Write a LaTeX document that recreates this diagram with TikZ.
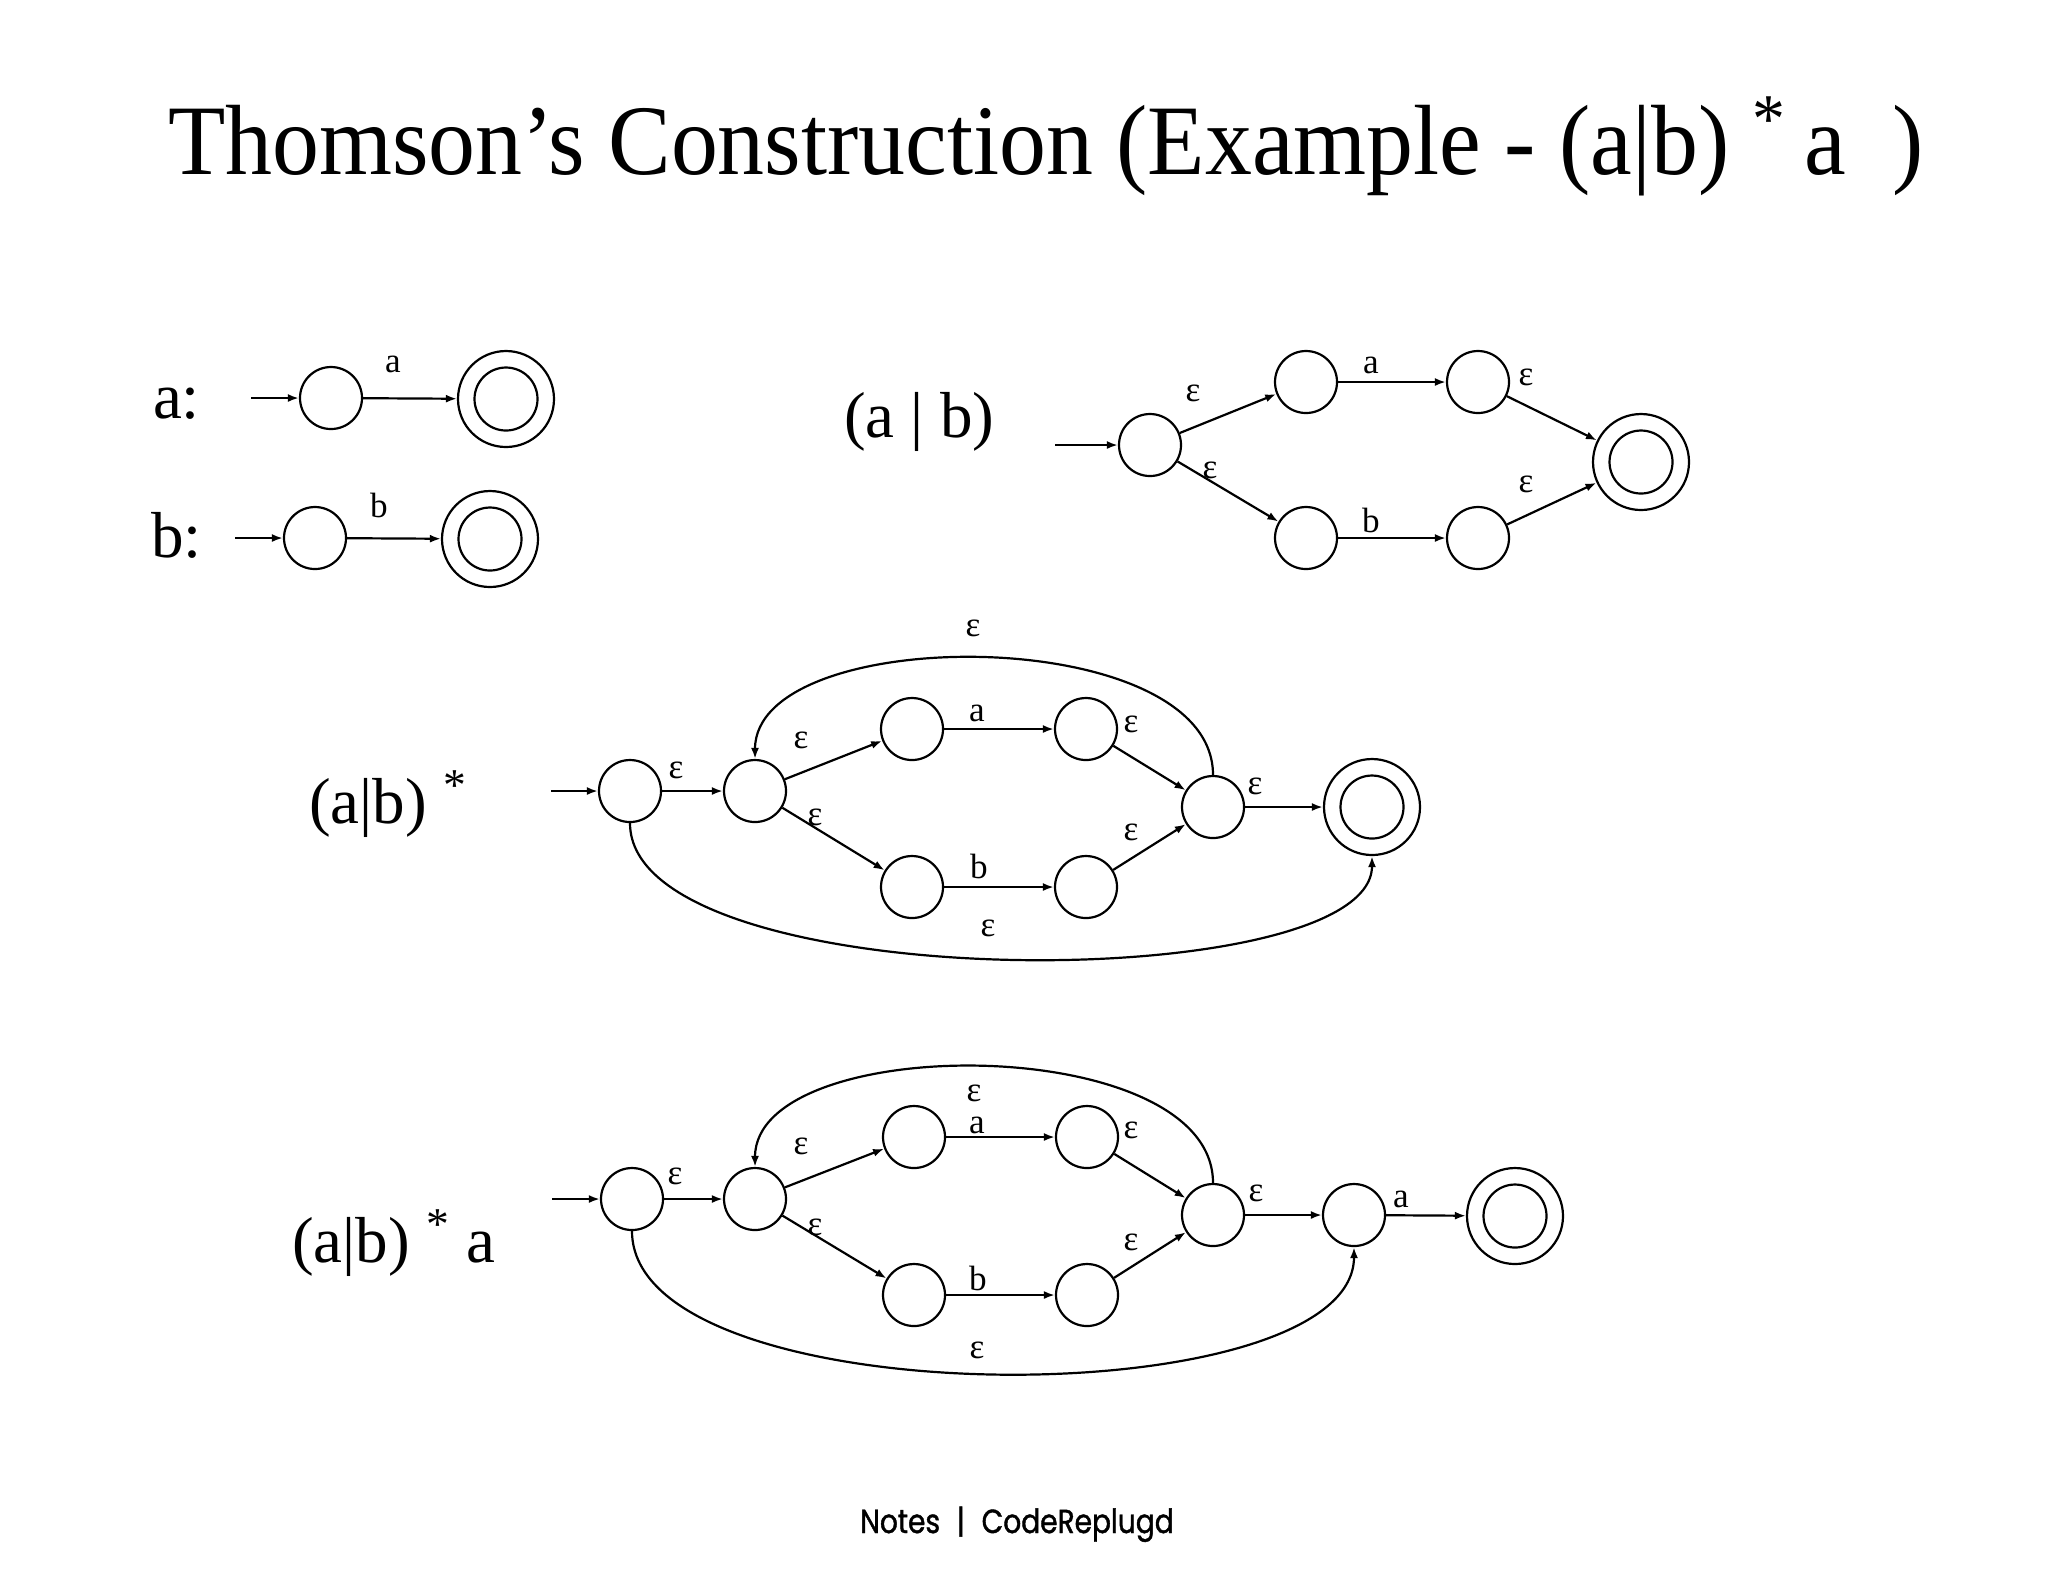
\documentclass[tikz,border=0pt]{standalone}
\usepackage{fontspec}
\setmainfont{Liberation Serif}
\newfontfamily\titlefont{Liberation Serif}[FakeStretch=0.94]
\newfontfamily\notesfont{Poppins}[FakeStretch=0.84,FakeBold=1.2]
\usetikzlibrary{arrows.meta}

\begin{document}
\begin{tikzpicture}[x=0.1mm,y=-0.1mm,line width=0.22mm,
  >={Latex[length=1.1mm,width=0.8mm]},
  st/.style={circle,draw,minimum size=6.2mm,inner sep=0pt},
  acc/.style={circle,draw,minimum size=9.6mm,inner sep=0pt},
  lbl/.style={font=\fontsize{10}{12}\selectfont,inner sep=0pt},
  big/.style={font=\fontsize{18.5}{22}\selectfont,anchor=base west,inner sep=0pt}]
\useasboundingbox (0,0) rectangle (2048,1582);
\node[font=\titlefont\fontsize{28.4}{34}\selectfont,anchor=base,inner sep=0pt] (title) at (1046,174) {Thomson’s Construction (Example - (a|b) \textsuperscript{*}\,a \ )};

% a: and b:
\node[big] (ta) at (152,418) {a:};
\node[big] (tb) at (150,557) {b:};
\coordinate (ain) at (251,398); \coordinate (bin) at (235,538);
\node[st] (a0) at (331,398) {}; \node[acc] (af) at (506,399) {};
\node[st] (b0) at (315,538) {}; \node[acc] (bf) at (490,539) {};
\draw[->] (ain)--(a0); \draw[->] (a0)--(af);
\draw[->] (bin)--(b0); \draw[->] (b0)--(bf);
\node[lbl] (la) at (393,364) {a};
\node[lbl] (lb) at (379,505) {b};

% (a | b)
\node[big] (tab) at (843,437) {(a | b)};
\coordinate (qin) at (1055,445);
\node[st] (q0) at (1150,445) {};
\node[st] (q1) at (1306,382) {}; \node[st] (q2) at (1478,382) {};
\node[st] (q3) at (1306,538) {}; \node[st] (q4) at (1478,538) {};
\node[acc] (qf) at (1641,462) {};
\draw[->] (qin)--(q0);
\draw[->] (q0)--(q1); \draw[->] (q1)--(q2); \draw[->] (q2)--(qf);
\draw[->] (q0)--(q3); \draw[->] (q3)--(q4); \draw[->] (q4)--(qf);
\node[lbl] (lq1) at (1193,393) {ε};
\node[lbl] (lq2) at (1371,365) {a};
\node[lbl] (lq3) at (1526,377) {ε};
\node[lbl] (lq4) at (1210,470) {ε};
\node[lbl] (lq5) at (1371,520) {b};
\node[lbl] (lq6) at (1526,484) {ε};

% (a|b) *
\node[big] (tstar) at (308,823) {(a|b) \textsuperscript{*}};
\coordinate (pin) at (551,791);
\node[st] (p0) at (630,791) {}; \node[st] (p1) at (755,791) {};
\node[st] (p2) at (912,729) {}; \node[st] (p3) at (1086,729) {};
\node[st] (p4) at (912,887) {}; \node[st] (p5) at (1086,887) {};
\node[st] (p6) at (1213,807) {}; \node[acc] (pf) at (1372,807) {};
\draw[->] (pin)--(p0); \draw[->] (p0)--(p1);
\draw[->] (p1)--(p2); \draw[->] (p2)--(p3); \draw[->] (p3)--(p6);
\draw[->] (p1)--(p4); \draw[->] (p4)--(p5); \draw[->] (p5)--(p6);
\draw[->] (p6)--(pf);
\draw[->] (p6.north) .. controls (1213,622) and (755,622) .. (p1.north);
\draw[->] (p0.south) .. controls (630,998) and (1372,998) .. (pf.south);
\node[lbl] (lp1) at (973,628) {ε};
\node[lbl] (lp2) at (676,770) {ε};
\node[lbl] (lp3) at (801,740) {ε};
\node[lbl] (lp4) at (977,713) {a};
\node[lbl] (lp5) at (1131,724) {ε};
\node[lbl] (lp6) at (815,817) {ε};
\node[lbl] (lp7) at (979,866) {b};
\node[lbl] (lp8) at (1131,832) {ε};
\node[lbl] (lp9) at (1255,786) {ε};
\node[lbl] (lp10) at (988,928) {ε};

% (a|b) * a
\node[big] (tstara) at (291,1262) {(a|b) \textsuperscript{*} a};
\coordinate (rin) at (552,1199);
\node[st] (r0) at (632,1199) {}; \node[st] (r1) at (755,1199) {};
\node[st] (r2) at (914,1137) {}; \node[st] (r3) at (1087,1137) {};
\node[st] (r4) at (914,1295) {}; \node[st] (r5) at (1087,1295) {};
\node[st] (r6) at (1213,1215) {}; \node[st] (r7) at (1354,1215) {};
\node[acc] (rf) at (1515,1216) {};
\draw[->] (rin)--(r0); \draw[->] (r0)--(r1);
\draw[->] (r1)--(r2); \draw[->] (r2)--(r3); \draw[->] (r3)--(r6);
\draw[->] (r1)--(r4); \draw[->] (r4)--(r5); \draw[->] (r5)--(r6);
\draw[->] (r6)--(r7); \draw[->] (r7)--(rf);
\draw[->] (r6.north) .. controls (1213,1031) and (755,1031) .. (r1.north);
\draw[->] (r0.south) .. controls (632,1418) and (1354,1418) .. (r7.south);
\node[lbl] (lr1) at (675,1176) {ε};
\node[lbl] (lr2) at (801,1146) {ε};
\node[lbl] (lr3) at (974,1093) {ε};
\node[lbl] (lr4) at (977,1125) {a};
\node[lbl] (lr5) at (1131,1130) {ε};
\node[lbl] (lr6) at (815,1227) {ε};
\node[lbl] (lr7) at (978,1278) {b};
\node[lbl] (lr8) at (1131,1242) {ε};
\node[lbl] (lr9) at (1256,1193) {ε};
\node[lbl] (lr10) at (1401,1199) {a};
\node[lbl] (lr11) at (977,1350) {ε};

% accepting states
\foreach \n in {af,bf,qf,pf,rf} \draw (\n) circle (3.15mm);

\node[font=\notesfont\fontsize{9.5}{11}\selectfont,anchor=base,inner sep=0pt] (notes) at (1017,1533) {Notes\hspace{0.5em}|\hspace{0.5em}CodeReplugd};
\end{tikzpicture}
\end{document}
